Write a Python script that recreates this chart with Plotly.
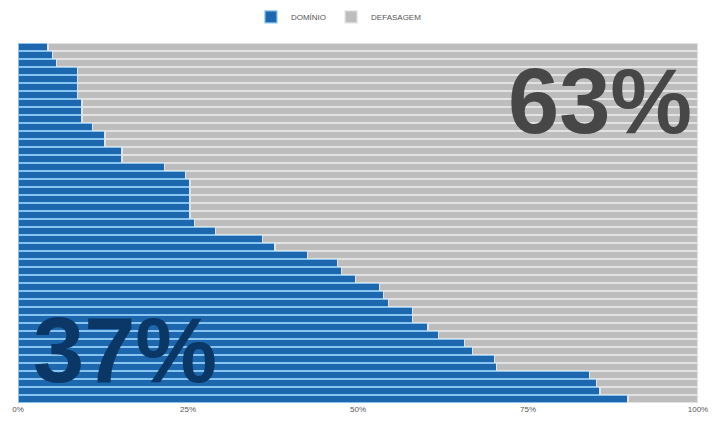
import plotly.graph_objects as go

# Rows listed top to bottom
alunos = [str(i) for i in range(1, 46)]
dominio = [4.4, 5.1, 5.7, 8.7, 8.7, 8.7, 8.7, 9.4, 9.4, 9.4,
           10.9, 12.8, 12.8, 15.3, 15.3, 21.5, 24.6, 25.3, 25.3, 25.3,
           25.3, 25.3, 26.0, 29.0, 36.0, 37.8, 42.6, 47.0, 47.6, 49.6,
           53.2, 53.7, 54.5, 58.0, 58.0, 60.3, 61.8, 65.7, 66.8, 70.1,
           70.4, 84.1, 85.1, 85.6, 89.7]
defasagem = [95.6, 94.9, 94.3, 91.3, 91.3, 91.3, 91.3, 90.6, 90.6, 90.6,
             89.1, 87.2, 87.2, 84.7, 84.7, 78.5, 75.4, 74.7, 74.7, 74.7,
             74.7, 74.7, 74.0, 71.0, 64.0, 62.2, 57.4, 53.0, 52.4, 50.4,
             46.8, 46.3, 45.5, 42.0, 42.0, 39.7, 38.2, 34.3, 33.2, 29.9,
             29.6, 15.9, 14.9, 14.4, 10.3]
tick_vals = [0, 25, 50, 75, 100]
tick_text = ["0%", "25%", "50%", "75%", "100%"]
total_dominio = "37%"
total_defasagem = "63%"

fig = go.Figure()
fig.add_trace(go.Bar(
    y=alunos, x=dominio, orientation="h", name="DOMÍNIO",
    marker=dict(color="#1c67ad", line=dict(color="#86c3ee", width=1.2)),
))
fig.add_trace(go.Bar(
    y=alunos, x=defasagem, orientation="h", name="DEFASAGEM",
    marker=dict(color="#bdbdbd", line=dict(color="#e2e2e2", width=1.2)),
))

fig.add_annotation(text="<b>" + total_defasagem + "</b>", xref="paper", yref="paper",
                   x=0.856, y=0.84, xanchor="center", yanchor="middle", showarrow=False,
                   font=dict(family="Liberation Sans", size=92, color="#474747"))
fig.add_annotation(text="<b>" + total_dominio + "</b>", xref="paper", yref="paper",
                   x=0.157, y=0.147, xanchor="center", yanchor="middle", showarrow=False,
                   font=dict(family="Liberation Sans", size=92, color="#0b3766"))

fig.update_layout(
    width=718, height=424,
    barmode="stack", bargap=0.12,
    margin=dict(l=10, r=28, t=35, b=29, autoexpand=False),
    paper_bgcolor="white", plot_bgcolor="white",
    font=dict(family="Liberation Sans", color="#555555", size=8),
    legend=dict(orientation="h", x=0.472, xanchor="center", y=0.979, yanchor="middle",
                yref="container", font=dict(family="Liberation Sans", size=8, color="#555555"),
                itemwidth=30, traceorder="normal"),
    xaxis=dict(range=[0, 100], tickvals=tick_vals, ticktext=tick_text,
               showgrid=True, gridcolor="#d8d8d8", gridwidth=1, zeroline=False,
               automargin=False,
               tickfont=dict(size=8, color="#555555"), fixedrange=True),
    yaxis=dict(autorange="reversed", showticklabels=False, showgrid=False,
               zeroline=False, fixedrange=True, automargin=False),
    showlegend=True,
)

fig.write_html("out.html")
